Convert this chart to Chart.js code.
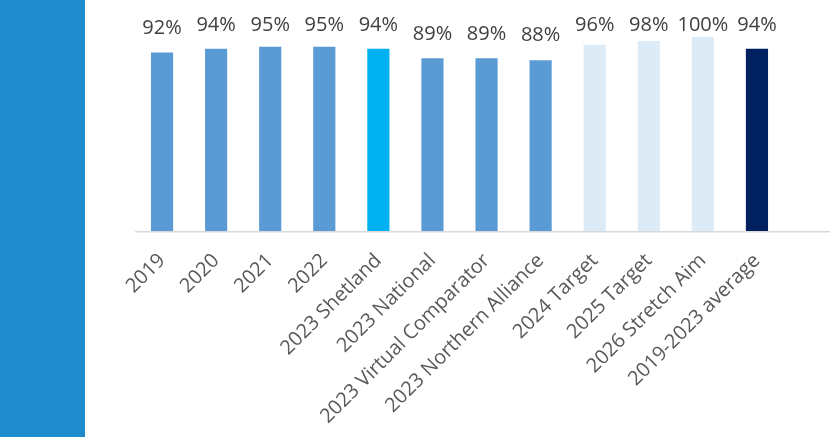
<!DOCTYPE html>
<html>
<head>
<meta charset="utf-8">
<script src="https://cdn.jsdelivr.net/npm/chart.js@4.4.1/dist/chart.umd.min.js"></script>
<style>
  html, body { margin: 0; padding: 0; background: #fff; }
  #wrap { position: relative; width: 830px; height: 437px; }
  #side { position: absolute; left: 0; top: 0; width: 85px; height: 437px; background: #1D8BCD; }
  #myChart { position: absolute; left: 0; top: 0; }
</style>
</head>
<body>
<div id="wrap">
  <div id="side"></div>
  <canvas id="myChart" width="830" height="437"></canvas>
</div>
<script>
const labels = ['2019', '2020', '2021', '2022', '2023 Shetland', '2023 National',
  '2023 Virtual Comparator', '2023 Northern Alliance', '2024 Target', '2025 Target',
  '2026 Stretch Aim', '2019-2023 average'];
const values = [92, 94, 95, 95, 94, 89, 89, 88, 96, 98, 100, 94];
const barColors = ['#5B9BD5', '#5B9BD5', '#5B9BD5', '#5B9BD5', '#00B0F0', '#5B9BD5',
  '#5B9BD5', '#5B9BD5', '#DDEBF7', '#DDEBF7', '#DDEBF7', '#002060'];

const FONT = "'Open Sans', sans-serif";

// percentage labels above each bar, kept from running off the top
const valueLabels = {
  id: 'valueLabels',
  afterDatasetsDraw(chart) {
    const ctx = chart.ctx;
    const meta = chart.getDatasetMeta(0);
    ctx.save();
    ctx.font = '20px ' + FONT;
    ctx.fillStyle = '#404040';
    ctx.textAlign = 'center';
    ctx.textBaseline = 'middle';
    meta.data.forEach((bar, i) => {
      const y = Math.max(bar.y - 24.5, 25.5);
      ctx.fillText(values[i] + '%', bar.x, y);
    });
    ctx.restore();
  }
};

// baseline runs on to the right edge
const baseLine = {
  id: 'baseLine',
  afterDraw(chart) {
    const ctx = chart.ctx;
    const y = chart.scales.y.getPixelForValue(0);
    ctx.save();
    ctx.strokeStyle = '#D9D9D9';
    ctx.lineWidth = 1.5;
    ctx.beginPath();
    ctx.moveTo(chart.chartArea.left, y + 0.75);
    ctx.lineTo(chart.width, y + 0.75);
    ctx.stroke();
    ctx.restore();
  }
};

const ctx = document.getElementById('myChart').getContext('2d');
const chart = new Chart(ctx, {
  type: 'bar',
  data: {
    labels: labels,
    datasets: [{
      data: values,
      backgroundColor: barColors,
      borderWidth: 0,
      categoryPercentage: 1,
      barPercentage: 0.41
    }]
  },
  options: {
    responsive: false,
    animation: false,
    layout: { padding: { left: 135, right: 46, top: 37, bottom: 0 } },
    plugins: { legend: { display: false }, tooltip: { enabled: false } },
    scales: {
      y: { display: false, min: 0, max: 100 },
      x: {
        border: { display: false },
        grid: { display: false },
        ticks: {
          minRotation: 45,
          maxRotation: 45,
          color: '#595959',
          padding: 10,
          font: { family: FONT, size: 20 }
        },
        afterFit(scale) { scale.height = 206; }
      }
    }
  },
  plugins: [valueLabels, baseLine]
});
</script>
</body>
</html>
